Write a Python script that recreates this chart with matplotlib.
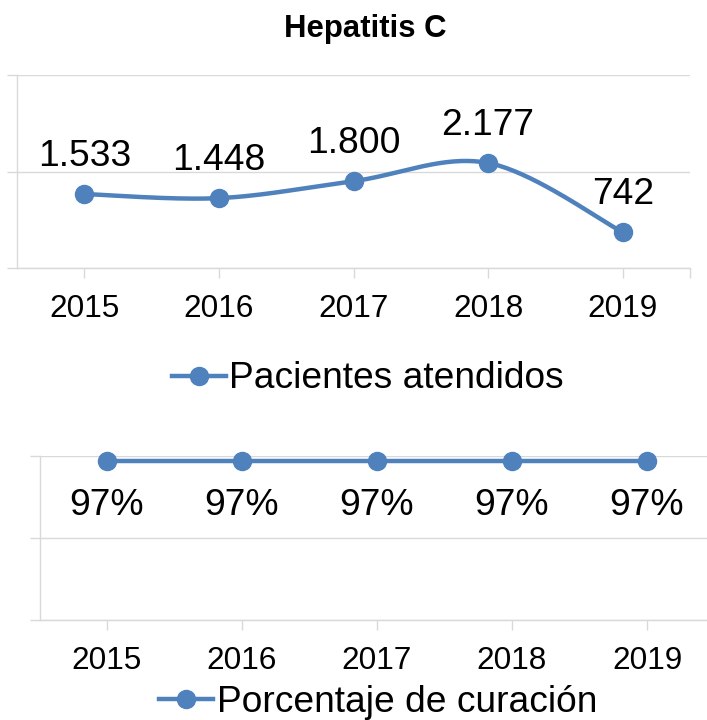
import numpy as np
import matplotlib
matplotlib.use("Agg")
import matplotlib.pyplot as plt

plt.rcParams['font.family'] = ['Liberation Sans', 'DejaVu Sans']

years = ['2015', '2016', '2017', '2018', '2019']
pacientes = [1533, 1448, 1800, 2177, 742]
pacientes_labels = ['1.533', '1.448', '1.800', '2.177', '742']
curacion = [0.97, 0.97, 0.97, 0.97, 0.97]
curacion_labels = ['97%', '97%', '97%', '97%', '97%']
title = 'Hepatitis C'
legend1 = 'Pacientes atendidos'
legend2 = 'Porcentaje de curación'

BLUE = '#4f81bd'
GRID = '#d9d9d9'
W, H = 707, 720
LW = 3.2
MS = 13

def catmull(x, y, n=40, tension=0.5):
    x = np.asarray(x, float); y = np.asarray(y, float)
    px = np.concatenate([[x[0]], x, [x[-1]]])
    py = np.concatenate([[y[0]], y, [y[-1]]])
    X, Y = [], []
    for i in range(1, len(px) - 2):
        p0, p1, p2, p3 = (np.array([px[j], py[j]]) for j in (i - 1, i, i + 1, i + 2))
        m1 = tension * (p2 - p0)
        m2 = tension * (p3 - p1)
        t = np.linspace(0, 1, n)
        h00 = 2*t**3 - 3*t**2 + 1
        h10 = t**3 - 2*t**2 + t
        h01 = -2*t**3 + 3*t**2
        h11 = t**3 - t**2
        pts = (np.outer(h00, p1) + np.outer(h10, m1) + np.outer(h01, p2) + np.outer(h11, m2))
        X.extend(pts[:, 0]); Y.extend(pts[:, 1])
    return np.array(X), np.array(Y)

fig = plt.figure(figsize=(W/100, H/100), dpi=100)

def style_axes(ax):
    for s in ['top', 'right']:
        ax.spines[s].set_visible(False)
    for s in ['left', 'bottom']:
        ax.spines[s].set_color(GRID)
        ax.spines[s].set_linewidth(1.0)
    ax.grid(axis='y', color=GRID, linewidth=1.0)
    ax.set_axisbelow(True)
    ax.tick_params(axis='y', which='both', length=7, color=GRID, labelleft=False, width=1.0)
    ax.tick_params(axis='x', which='major', length=7, color=GRID, width=1.0,
                   labelsize=22.7, pad=12)
    ax.tick_params(axis='x', which='minor', length=7, color=GRID, width=1.0)

# ---- Top chart ----
ax1 = fig.add_axes([17/W, 1 - 268/H, 673/W, 193/H])
x = np.arange(len(years))
xs, ys = catmull(x, pacientes)
ax1.plot(xs, ys, color=BLUE, lw=LW, solid_capstyle='round', zorder=3)
ax1.plot(x, pacientes, 'o', color=BLUE, ms=MS, zorder=4)
ax1.set_xlim(-0.5, 4.5)
ax1.set_ylim(0, 4000)
ax1.set_yticks([0, 2000, 4000])
ax1.set_xticks(x)
ax1.set_xticklabels(years)
ax1.set_xticks([4.5], minor=True)
style_axes(ax1)
for xi, v, lab in zip(x, pacientes, pacientes_labels):
    ax1.annotate(lab, (xi, v), xytext=(0, 27), textcoords='offset points',
                 ha='center', va='center', fontsize=26.8, color='black')
fig.text(365/W, 1 - 29/H, title, ha='center', va='center', fontsize=22.4, fontweight='bold')
ax1.legend([plt.Line2D([], [], color=BLUE, lw=LW, marker='o', ms=MS)], [legend1],
           loc='center', bbox_to_anchor=(368/W, 1 - 379/H), bbox_transform=fig.transFigure,
           frameon=False, fontsize=26.7, handlelength=1.45, handletextpad=0.1,
           borderpad=0, borderaxespad=0)

# ---- Bottom chart ----
ax2 = fig.add_axes([39.5/W, 1 - 620/H, 675/W, 164/H])
ax2.plot(x, curacion, color=BLUE, lw=LW, marker='o', ms=MS, zorder=3, clip_on=False)
ax2.set_xlim(-0.5, 4.5)
ax2.set_ylim(0, 1)
ax2.set_yticks([0, 0.5, 1])
ax2.set_xticks(x)
ax2.set_xticklabels(years)
style_axes(ax2)
for xi, v, lab in zip(x, curacion, curacion_labels):
    ax2.annotate(lab, (xi, v), xytext=(0, -32), textcoords='offset points',
                 ha='center', va='center', fontsize=26.8, color='black')
ax2.legend([plt.Line2D([], [], color=BLUE, lw=LW, marker='o', ms=MS)], [legend2],
           loc='center', bbox_to_anchor=(378/W, 1 - 702/H), bbox_transform=fig.transFigure,
           frameon=False, fontsize=26.7, handlelength=1.45, handletextpad=0.1,
           borderpad=0, borderaxespad=0)

fig.savefig('out.png', dpi=100)
